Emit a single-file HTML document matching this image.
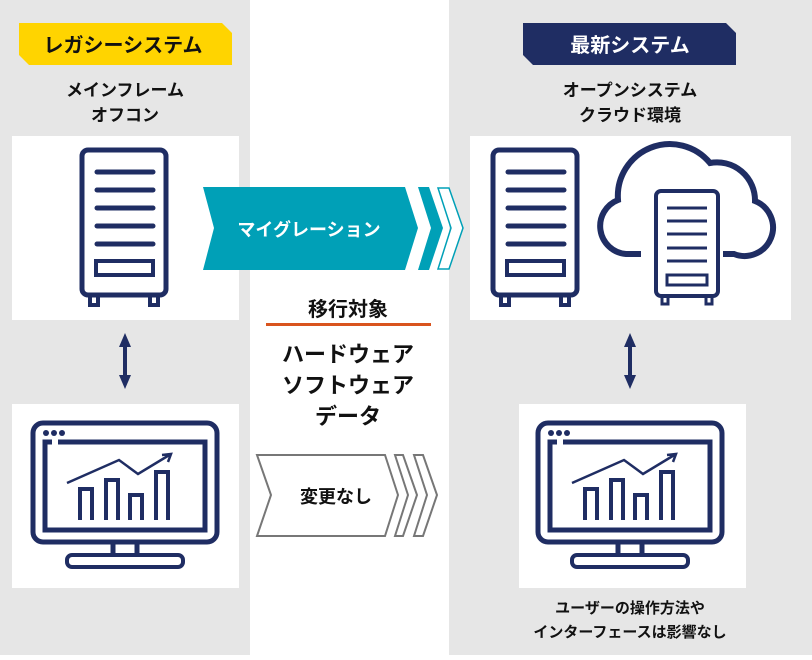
<!DOCTYPE html>
<html><head><meta charset="utf-8"><style>
html,body{margin:0;padding:0;background:#fff}
svg text{font-family:"Liberation Sans","Noto Sans CJK JP",sans-serif;font-weight:bold}
</style></head><body>
<svg width="812" height="655" viewBox="0 0 812 655" xmlns="http://www.w3.org/2000/svg">
<defs>
<g id="srv" fill="none" stroke="#1f2d63" stroke-width="5" stroke-linecap="round">
  <rect x="2" y="2" width="84" height="145" rx="6"/>
  <line x1="17" y1="24" x2="73" y2="24"/><line x1="17" y1="42" x2="73" y2="42"/>
  <line x1="17" y1="60" x2="73" y2="60"/><line x1="17" y1="78" x2="73" y2="78"/>
  <line x1="17" y1="96" x2="73" y2="96"/>
  <rect x="16" y="113" width="57" height="14" stroke-width="4"/>
  <rect x="10" y="147" width="8" height="10" stroke-width="4"/>
  <rect x="70" y="147" width="8" height="10" stroke-width="4"/>
</g>
<g id="mon" fill="none" stroke="#1f2d63" stroke-width="5">
  <rect x="33" y="423" width="184" height="119" rx="10"/>
  <path d="M58,442 H205 V530 H45 V442 H52"/>
  <circle cx="46" cy="433" r="3" fill="#1f2d63" stroke="none"/>
  <circle cx="54" cy="433" r="3" fill="#1f2d63" stroke="none"/>
  <circle cx="62" cy="433" r="3" fill="#1f2d63" stroke="none"/>
  <path d="M113,542 V555 M137,542 V555"/>
  <rect x="67" y="555" width="116" height="12" rx="5" stroke-width="4"/>
  <g stroke-width="4">
  <path d="M80,520 V489 H92 V520 M106,520 V480 H118 V520 M130,520 V495 H142 V520 M156,520 V472 H168 V520"/>
  </g>
  <path d="M67,483 L119,460 L138,474 L171,454 M162,455 L171,454 L168,462" stroke-width="2.5"/>
</g>
</defs>
<rect x="0" y="0" width="250" height="655" fill="#e6e6e6"/>
<rect x="449" y="0" width="363" height="655" fill="#e6e6e6"/>
<polygon points="19,23 222,23 232,33 232,65 29,65 19,55" fill="#ffd400"/>
<text x="123" y="52" font-size="20" text-anchor="middle" fill="#111">レガシーシステム</text>
<polygon points="523,23 726,23 736,33 736,65 533,65 523,55" fill="#1f2d63"/>
<text x="630" y="52" font-size="20" text-anchor="middle" fill="#fff">最新システム</text>
<text x="125" y="96" font-size="17" text-anchor="middle" fill="#111">メインフレーム</text>
<text x="125" y="121" font-size="17" text-anchor="middle" fill="#111">オフコン</text>
<text x="630" y="96" font-size="17" text-anchor="middle" fill="#111">オープンシステム</text>
<text x="630" y="121" font-size="17" text-anchor="middle" fill="#111">クラウド環境</text>
<rect x="12" y="136" width="227" height="184" fill="#fff"/>
<rect x="470" y="136" width="321" height="184" fill="#fff"/>
<rect x="12" y="404" width="227" height="184" fill="#fff"/>
<rect x="519" y="404" width="227" height="184" fill="#fff"/>
<use href="#srv" x="80" y="148"/>
<use href="#srv" x="491" y="148"/>
<path d="M641,254 H626 A28,28 0 0 1 618,200 A52,52 0 0 1 710,163 A38,38 0 0 1 755,201 A28,28 0 0 1 734,254 H723" fill="none" stroke="#1f2d63" stroke-width="6"/>
<g fill="none" stroke="#1f2d63" stroke-width="4">
  <rect x="656" y="191" width="62" height="105" rx="5" fill="#fff"/>
  <path d="M667,208 H707 M667,221 H707 M667,234 H707 M667,248 H707 M667,261 H707" stroke-width="3"/>
  <rect x="667" y="275" width="40" height="10" stroke-width="3"/>
  <rect x="662" y="296" width="6" height="8" stroke-width="3"/>
  <rect x="706" y="296" width="6" height="8" stroke-width="3"/>
</g>
<polygon points="203,187 405,187 418,228 405,270 203,270 214,228" fill="#00a0b7"/>
<polygon points="418,187 429,187 443,228 429,270 418,270 431,228" fill="#00a0b7"/>
<polygon points="438,188 449,188 463,228 449,269 438,269 451,228" fill="#fff" stroke="#00a0b7" stroke-width="1.5"/>
<text x="309" y="236" font-size="18" text-anchor="middle" fill="#fff">マイグレーション</text>
<text x="348" y="316" font-size="20" text-anchor="middle" fill="#111">移行対象</text>
<rect x="266" y="323" width="165" height="3" fill="#d9541e"/>
<text x="348" y="362" font-size="22" text-anchor="middle" fill="#111">ハードウェア</text>
<text x="348" y="393" font-size="22" text-anchor="middle" fill="#111">ソフトウェア</text>
<text x="348" y="424" font-size="22" text-anchor="middle" fill="#111">データ</text>
<g fill="#fff" stroke="#777" stroke-width="2">
<polygon points="257,455 385,455 398,495 385,536 257,536 271,495"/>
<polygon points="395,455 403,455 417,495 403,536 395,536 408,495"/>
<polygon points="414,455 423,455 437,495 423,536 414,536 427,495"/>
</g>
<text x="336" y="503" font-size="18" text-anchor="middle" fill="#111">変更なし</text>
<g fill="#1f2d63">
<rect x="123" y="340" width="4" height="44"/>
<polygon points="125,333 119,347 131,347"/><polygon points="125,389 119,375 131,375"/>
<rect x="628" y="340" width="4" height="44"/>
<polygon points="630,333 624,347 636,347"/><polygon points="630,389 624,375 636,375"/>
</g>
<use href="#mon"/>
<use href="#mon" x="505"/>
<text x="630" y="613" font-size="15" text-anchor="middle" fill="#111">ユーザーの操作方法や</text>
<text x="630" y="637" font-size="15" text-anchor="middle" fill="#111">インターフェースは影響なし</text>
</svg>
</body></html>
